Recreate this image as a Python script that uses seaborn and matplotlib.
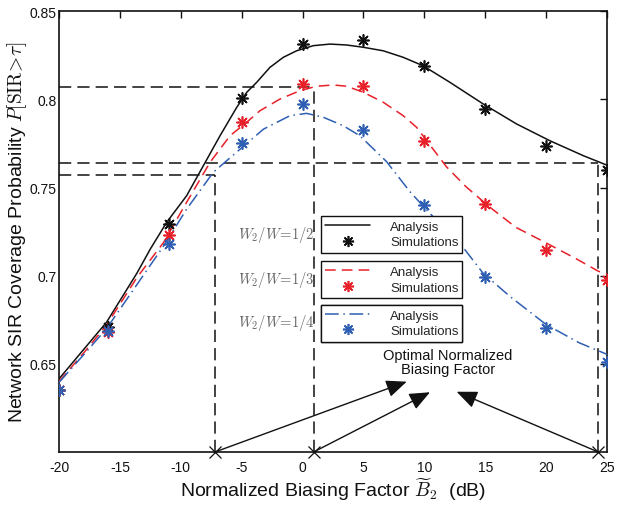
import numpy as np
import pandas as pd
import matplotlib
matplotlib.use("Agg")
import matplotlib.pyplot as plt
from matplotlib.lines import Line2D
import seaborn as sns

# Analytical coverage curves, sampled along the normalized biasing factor (dB)
x_half = [-20, -18, -16.1, -13.6, -12.5, -11.16, -9.52, -8.15, -6.78, -5.41, -4.59, -3.77, -2.68, -1.58, -0.49,
          0.88, 2.25, 3.6, 4.98, 6.62, 8.26, 9.9, 12.1, 14.84, 17.57, 20.3, 23.05, 25]
ana_half = [0.6415, 0.658, 0.6736, 0.7015, 0.7152, 0.7303, 0.7454, 0.7624, 0.7794, 0.7955, 0.804, 0.8097, 0.8182,
            0.8239, 0.8276, 0.8305, 0.8314, 0.8309, 0.8296, 0.8276, 0.8239, 0.8191, 0.8097, 0.7974, 0.7861, 0.7766,
            0.7681, 0.7627]

x_third = [-20, -18, -16.1, -13.6, -11.4, -9.52, -7.6, -5.96, -4.6, -3.5, -1.86, -0.21, 1.15, 2.52, 3.62, 4.98,
           6.62, 8.26, 9.36, 11.8, 13.4, 15.3, 17.5, 20, 22.5, 24.3, 25]
ana_third = [0.640, 0.656, 0.672, 0.699, 0.719, 0.7417, 0.7643, 0.7794, 0.787, 0.7936, 0.8002, 0.805, 0.8075,
             0.8082, 0.8075, 0.8041, 0.7984, 0.7908, 0.7842, 0.7619, 0.7506, 0.7393, 0.7275, 0.7186, 0.7095,
             0.7025, 0.701]

x_quarter = [-20, -18, -16.1, -13.6, -11.4, -9.52, -7.33, -5.1, -3.2, -1.03, 0.33, 1.7, 3.34, 4.7, 6.9, 8.8, 10.4,
             12.9, 14.8, 17, 20, 22.7, 25]
ana_quarter = [0.6395, 0.655, 0.670, 0.695, 0.717, 0.7378, 0.7587, 0.772, 0.7832, 0.7908, 0.7921, 0.7899, 0.7851,
               0.7794, 0.7647, 0.7478, 0.7357, 0.7186, 0.7016, 0.6884, 0.6723, 0.662, 0.6554]

# Monte-Carlo simulation points
x_sim = [-20, -16, -11, -5, 0, 5, 10, 15, 20, 25]
sim_half = [0.635, 0.6707, 0.7293, 0.801, 0.8315, 0.834, 0.819, 0.7944, 0.7736, 0.7597]
sim_third = [0.635, 0.668, 0.7233, 0.7872, 0.809, 0.8079, 0.7764, 0.7406, 0.7147, 0.6974]
sim_quarter = [0.635, 0.6688, 0.7182, 0.7753, 0.7972, 0.7825, 0.7402, 0.6993, 0.6705, 0.6513]

# Optimal biasing factors and the corresponding coverage levels
opt_x = [-7.2, 0.9, 24.28]
opt_y = [0.7573, 0.8071, 0.7638]

ratio_labels = [r"$W_2/W\!=\!1/2$", r"$W_2/W\!=\!1/3$", r"$W_2/W\!=\!1/4$"]
x_ticks = [-20, -15, -10, -5, 0, 5, 10, 15, 20, 25]
y_ticks = [0.65, 0.7, 0.75, 0.8, 0.85]
y_tick_labels = ["0.65", "0.7", "0.75", "0.8", "0.85"]

sns.set_theme(style="white")
plt.rcParams["font.family"] = ["Liberation Sans", "DejaVu Sans"]
plt.rcParams["mathtext.fontset"] = "cm"
plt.rcParams["axes.unicode_minus"] = False

BLACK = "#111111"
RED = "#e8202a"
BLUE = "#2f5fb3"
STAR = (8, 2, 0)

fig = plt.figure(figsize=(6.32, 5.06), dpi=100)
ax = fig.add_axes([0.0934, 0.1047, 0.8671, 0.871])

series = [
    (x_half, ana_half, sim_half, BLACK, "-"),
    (x_third, ana_third, sim_third, RED, (0, (7, 4))),
    (x_quarter, ana_quarter, sim_quarter, BLUE, (0, (9, 3, 1, 3))),
]

for xa, ya, ys, col, ls in series:
    sns.lineplot(x=xa, y=ya, ax=ax, color=col, linestyle=ls, linewidth=1.1, sort=False, zorder=3)
for xa, ya, ys, col, ls in series:
    sns.scatterplot(x=x_sim, y=ys, ax=ax, color=col, marker=STAR, s=65, linewidth=1.2, zorder=4)

# dashed guides to the optimal biasing factors
dash_kw = dict(color=BLACK, linewidth=1.1, linestyle=(0, (8, 4)), zorder=2)
for ox, oy in zip(opt_x, opt_y):
    ax.plot([-20, ox], [oy, oy], **dash_kw)
    ax.plot([ox, ox], [0.6, oy], **dash_kw)
ax.plot(opt_x, [0.6] * 3, linestyle="none", marker="x", markersize=9, color=BLACK, markeredgewidth=0.9,
        clip_on=False, zorder=5)

# arrows to the annotation text
tips = [(8.55, 0.6399), (10.46, 0.6339), (12.65, 0.6342)]
for ox, tip in zip(opt_x, tips):
    ax.annotate("", xy=tip, xytext=(ox, 0.6),
                arrowprops=dict(arrowstyle="-|>,head_length=0.9,head_width=0.38", color=BLACK,
                                linewidth=1.0, shrinkA=0, shrinkB=0, mutation_scale=14))
ax.text(11.95, 0.6511, "Optimal Normalized\nBiasing Factor", ha="center", va="center", fontsize=10.5,
        linespacing=1.05, color=BLACK)

# one legend box per bandwidth ratio
boxes = [(0.4776, 0.4516), (0.4776, 0.349), (0.4776, 0.2503)]
for (xa, ya, ys, col, ls), (bx, by), lab in zip(series, boxes, ratio_labels):
    handles = [Line2D([], [], color=col, linestyle=ls, linewidth=1.1),
               Line2D([], [], color=col, linestyle="none", marker=STAR, markersize=8, markeredgewidth=1.2)]
    leg = ax.legend(handles, ["Analysis", "Simulations"], loc="lower left",
                    bbox_to_anchor=(bx, by, 0.2573, 0.0884), mode="expand", borderaxespad=0,
                    fontsize=9.5, handlelength=3.4, handletextpad=1.5, labelspacing=0.25, borderpad=0.35,
                    frameon=True, fancybox=False, framealpha=1, edgecolor=BLACK)
    leg.get_frame().set_linewidth(1.0)
    ax.add_artist(leg)
    ax.text(bx - 0.012, by + 0.044, lab, transform=ax.transAxes, ha="right", va="center", fontsize=10.5,
            color="#666666")

ax.set_xlim(-20, 25)
ax.set_ylim(0.6, 0.85)
ax.set_xticks(x_ticks)
ax.set_yticks(y_ticks)
ax.set_yticklabels(y_tick_labels)
ax.tick_params(direction="in", length=5, width=1.0, top=True, right=True, labelsize=10, colors=BLACK)
ax.tick_params(axis="x", pad=6)
ax.tick_params(axis="y", pad=2)
for sp in ax.spines.values():
    sp.set_linewidth(1.2)
    sp.set_color(BLACK)

ax.set_xlabel(r"Normalized Biasing Factor $\widetilde{B}_2$  (dB)", fontsize=14, labelpad=1, color=BLACK)
ax.set_ylabel(r"Network SIR Coverage Probability $P[\mathrm{SIR}\!>\!\tau]$", fontsize=14, labelpad=0.5,
              color=BLACK)

fig.savefig("out.png", dpi=100)
